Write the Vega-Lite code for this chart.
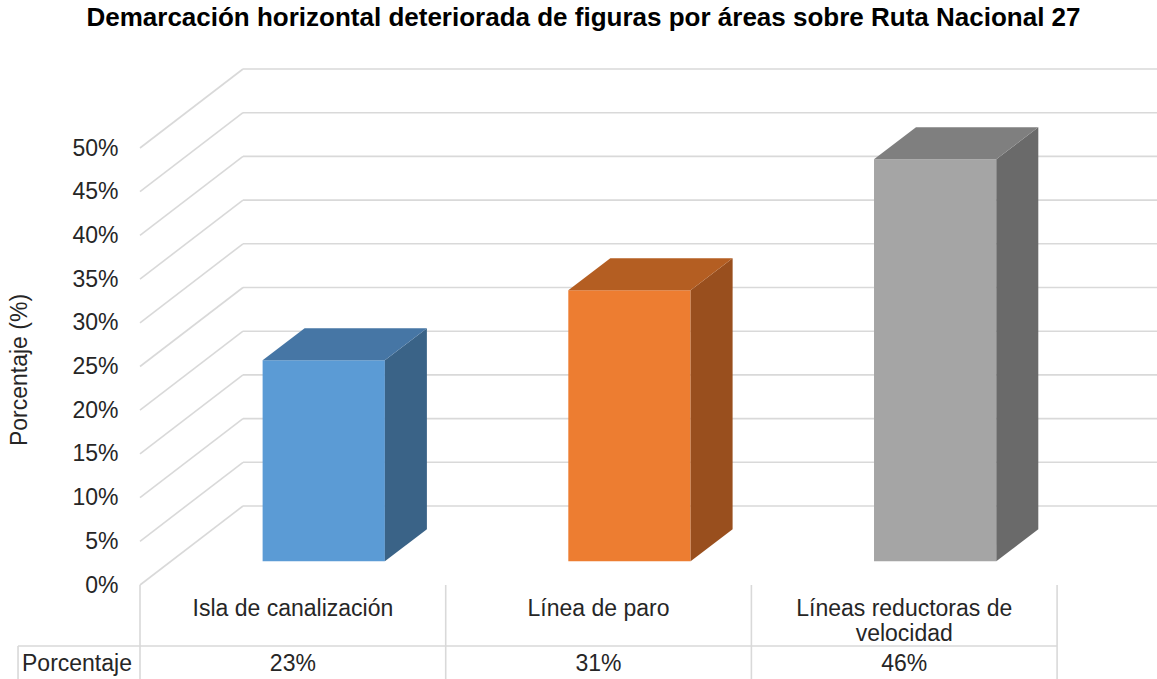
{
  "$schema": "https://vega.github.io/schema/vega-lite/v6.json",
  "width": 1017,
  "height": 619,
  "autosize": {"type": "none"},
  "padding": {"left": 140, "top": 60, "right": 0, "bottom": 0},
  "background": "white",
  "config": {"view": {"stroke": null}, "font": "Liberation Sans"},
  "title": {
    "text": "Demarcación horizontal deteriorada de figuras por áreas sobre Ruta Nacional 27",
    "fontSize": 26,
    "fontWeight": "bold",
    "font": "Liberation Sans",
    "color": "#000000",
    "anchor": "middle",
    "frame": "group",
    "baseline": "alphabetic",
    "dx": -65,
    "offset": 8
  },
  "datasets": {
    "bars": [
      {"area": "Isla de canalización", "pct": 23},
      {"area": "Línea de paro", "pct": 31},
      {"area": "Líneas reductoras de velocidad", "pct": 46}
    ],
    "ticks": [
      {"v": 0}, {"v": 5}, {"v": 10}, {"v": 15}, {"v": 20}, {"v": 25},
      {"v": 30}, {"v": 35}, {"v": 40}, {"v": 45}, {"v": 50}
    ]
  },
  "layer": [
    {
      "data": {"name": "ticks"},
      "transform": [{"calculate": "datum.v + 9.039", "as": "vb"}],
      "mark": {"type": "rule", "color": "#D9D9D9", "strokeWidth": 1.6},
      "encoding": {
        "x": {"datum": 0.3369, "type": "quantitative", "scale": {"domain": [0, 3.3268], "nice": false, "zero": false}, "axis": null},
        "x2": {"datum": 3.3268},
        "y": {
          "field": "vb", "type": "quantitative",
          "scale": {"domain": [-10.755, 60.069], "nice": false, "zero": false},
          "axis": {
            "values": [0, 5, 10, 15, 20, 25, 30, 35, 40, 45, 50],
            "labelExpr": "datum.value + '%'",
            "grid": false, "ticks": false, "domain": false,
            "labelPadding": 22, "labelFontSize": 23, "labelColor": "#262626", "labelFont": "Liberation Sans",
            "title": "Porcentaje (%)", "titleFontSize": 23, "titleFontWeight": "normal",
            "titleColor": "#262626", "titleFont": "Liberation Sans", "titlePadding": 40
          }
        }
      }
    },
    {
      "data": {"name": "ticks"},
      "transform": [{"calculate": "datum.v + 9.039", "as": "vb"}],
      "mark": {"type": "rule", "color": "#D9D9D9", "strokeWidth": 1.6},
      "encoding": {
        "x": {"datum": 0, "type": "quantitative", "scale": {"domain": [0, 3.3268], "nice": false, "zero": false}},
        "x2": {"datum": 0.3369},
        "y": {"field": "v", "type": "quantitative", "scale": {"domain": [-10.755, 60.069], "nice": false, "zero": false}},
        "y2": {"field": "vb"}
      }
    },
    {
      "data": {"name": "bars"},
      "transform": [
        {"window": [{"op": "row_number", "as": "rn"}]},
        {"calculate": "datum.rn - 1", "as": "idx"},
        {"calculate": "datum.idx + 0.4011", "as": "x0"},
        {"calculate": "datum.idx + 0.8011", "as": "x1"},
        {"calculate": "datum.pct + 2.712", "as": "ytop"}
      ],
      "mark": {"type": "rect"},
      "encoding": {
        "x": {"field": "x0", "type": "quantitative", "scale": {"domain": [0, 3.3268], "nice": false, "zero": false}},
        "x2": {"field": "x1"},
        "y": {"field": "ytop", "type": "quantitative", "scale": {"domain": [-10.755, 60.069], "nice": false, "zero": false}},
        "y2": {"datum": 2.712},
        "color": {
          "field": "area", "type": "nominal", "legend": null,
          "scale": {"domain": ["Isla de canalización", "Línea de paro", "Líneas reductoras de velocidad"], "range": ["#5B9BD5", "#ED7D31", "#A5A5A5"]}
        }
      }
    },
    {
      "data": {"name": "bars"},
      "transform": [
        {"window": [{"op": "row_number", "as": "rn"}]},
        {"calculate": "datum.rn - 1", "as": "idx"},
        {"calculate": "0", "as": "c0"},
        {"calculate": "1", "as": "c1"},
        {"fold": ["c0", "c1"], "as": ["kk", "k"]},
        {"calculate": "datum.idx + 0.8011 + datum.k * 0.1374", "as": "sx"},
        {"calculate": "2.712 + datum.k * 3.661", "as": "sy0"},
        {"calculate": "datum.pct + 2.712 + datum.k * 3.661", "as": "sy1"}
      ],
      "mark": {"type": "area", "orient": "vertical"},
      "encoding": {
        "x": {"field": "sx", "type": "quantitative", "scale": {"domain": [0, 3.3268], "nice": false, "zero": false}},
        "y": {"field": "sy1", "type": "quantitative", "scale": {"domain": [-10.755, 60.069], "nice": false, "zero": false}},
        "y2": {"field": "sy0"},
        "color": {
          "field": "area", "type": "nominal", "legend": null,
          "scale": {"domain": ["Isla de canalización", "Línea de paro", "Líneas reductoras de velocidad"], "range": ["#3A6387", "#994F1E", "#6A6A6A"]}
        }
      }
    },
    {
      "data": {"name": "bars"},
      "transform": [
        {"window": [{"op": "row_number", "as": "rn"}]},
        {"calculate": "datum.rn - 1", "as": "idx"},
        {"calculate": "0", "as": "c0"},
        {"calculate": "1", "as": "c1"},
        {"fold": ["c0", "c1"], "as": ["kk", "k"]},
        {"calculate": "datum.idx + 0.4011 + datum.k * 0.1374", "as": "tx0"},
        {"calculate": "datum.idx + 0.8011 + datum.k * 0.1374", "as": "tx1"},
        {"calculate": "datum.pct + 2.712 + datum.k * 3.661", "as": "ty"}
      ],
      "mark": {"type": "area", "orient": "horizontal"},
      "encoding": {
        "y": {"field": "ty", "type": "quantitative", "scale": {"domain": [-10.755, 60.069], "nice": false, "zero": false}},
        "x": {"field": "tx0", "type": "quantitative", "scale": {"domain": [0, 3.3268], "nice": false, "zero": false}},
        "x2": {"field": "tx1"},
        "color": {
          "field": "area", "type": "nominal", "legend": null,
          "scale": {"domain": ["Isla de canalización", "Línea de paro", "Líneas reductoras de velocidad"], "range": ["#4676A5", "#B45E22", "#7F7F7F"]}
        }
      }
    },
    {
      "data": {"name": "bars"},
      "transform": [
        {"window": [{"op": "row_number", "as": "rn"}]},
        {"calculate": "datum.rn", "as": "xr"}
      ],
      "mark": {"type": "rule", "color": "#D9D9D9", "strokeWidth": 1.6},
      "encoding": {
        "x": {"field": "xr", "type": "quantitative", "scale": {"domain": [0, 3.3268], "nice": false, "zero": false}},
        "y": {"datum": 0, "type": "quantitative", "scale": {"domain": [-10.755, 60.069], "nice": false, "zero": false}},
        "y2": {"datum": -10.755}
      }
    },
    {
      "data": {"values": [{}]},
      "mark": {"type": "rule", "color": "#D9D9D9", "strokeWidth": 1.6},
      "encoding": {
        "x": {"datum": 0, "type": "quantitative", "scale": {"domain": [0, 3.3268], "nice": false, "zero": false}},
        "y": {"datum": 0, "type": "quantitative", "scale": {"domain": [-10.755, 60.069], "nice": false, "zero": false}},
        "y2": {"datum": -10.755}
      }
    },
    {
      "data": {"values": [{}]},
      "mark": {"type": "rule", "color": "#D9D9D9", "strokeWidth": 1.6},
      "encoding": {
        "x": {"datum": -0.399, "type": "quantitative", "scale": {"domain": [0, 3.3268], "nice": false, "zero": false}},
        "x2": {"datum": 3},
        "y": {"datum": -6.98, "type": "quantitative", "scale": {"domain": [-10.755, 60.069], "nice": false, "zero": false}}
      }
    },
    {
      "data": {"values": [{}]},
      "mark": {"type": "rule", "color": "#D9D9D9", "strokeWidth": 1.6},
      "encoding": {
        "x": {"datum": -0.399, "type": "quantitative", "scale": {"domain": [0, 3.3268], "nice": false, "zero": false}},
        "y": {"datum": -6.98, "type": "quantitative", "scale": {"domain": [-10.755, 60.069], "nice": false, "zero": false}},
        "y2": {"datum": -10.755}
      }
    },
    {
      "data": {"name": "bars"},
      "transform": [
        {"window": [{"op": "row_number", "as": "rn"}]},
        {"calculate": "datum.rn - 0.5", "as": "cx"},
        {"calculate": "replace(datum.area, 'de velocidad', 'de\\nvelocidad')", "as": "label"}
      ],
      "mark": {"type": "text", "fontSize": 23, "lineHeight": 25, "lineBreak": "\n", "align": "center", "baseline": "alphabetic", "color": "#262626", "font": "Liberation Sans"},
      "encoding": {
        "x": {"field": "cx", "type": "quantitative", "scale": {"domain": [0, 3.3268], "nice": false, "zero": false}},
        "y": {"datum": -3.547, "type": "quantitative", "scale": {"domain": [-10.755, 60.069], "nice": false, "zero": false}},
        "text": {"field": "label"}
      }
    },
    {
      "data": {"name": "bars"},
      "transform": [
        {"window": [{"op": "row_number", "as": "rn"}]},
        {"calculate": "datum.rn - 0.5", "as": "cx"},
        {"calculate": "datum.pct + '%'", "as": "vlab"}
      ],
      "mark": {"type": "text", "fontSize": 23, "align": "center", "baseline": "alphabetic", "color": "#262626", "font": "Liberation Sans"},
      "encoding": {
        "x": {"field": "cx", "type": "quantitative", "scale": {"domain": [0, 3.3268], "nice": false, "zero": false}},
        "y": {"datum": -9.805, "type": "quantitative", "scale": {"domain": [-10.755, 60.069], "nice": false, "zero": false}},
        "text": {"field": "vlab"}
      }
    },
    {
      "data": {"values": [{}]},
      "mark": {"type": "text", "text": "Porcentaje", "fontSize": 23, "align": "left", "baseline": "alphabetic", "color": "#262626", "font": "Liberation Sans"},
      "encoding": {
        "x": {"datum": -0.386, "type": "quantitative", "scale": {"domain": [0, 3.3268], "nice": false, "zero": false}},
        "y": {"datum": -9.805, "type": "quantitative", "scale": {"domain": [-10.755, 60.069], "nice": false, "zero": false}}
      }
    }
  ],
  "resolve": {"scale": {"color": "independent"}}
}
